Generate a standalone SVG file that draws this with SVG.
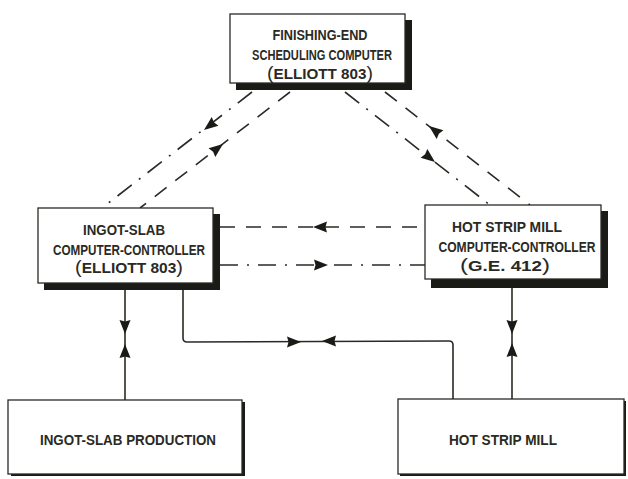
<svg xmlns="http://www.w3.org/2000/svg" xmlns:xlink="http://www.w3.org/1999/xlink" width="628" height="479" viewBox="0 0 628 479">
<style>
.bg{fill:#ffffff}
.box{fill:#ffffff;stroke:#2a2a24;stroke-width:1.3}
.sh{fill:#1a1a16}
.t{font-family:"Liberation Sans",Arial,sans-serif;font-size:14px;font-weight:bold;fill:#2a2a24;text-anchor:middle}
.p{font-size:18px;font-weight:normal}
.ln{fill:none;stroke:#2a2a24;stroke-width:1.6;stroke-linejoin:round}
.dash{stroke-dasharray:15 11}
.dd{stroke-dasharray:18 9 2 9}
.ah{fill:#1a1a16}
</style>
<defs>
<path id="ah" d="M0,0 L-14,-5.5 L-12.5,0 L-14,5.5 Z"/>
</defs>
<rect class="bg" width="628" height="479"/>

<g id="connectors">
<!-- left diagonals -->
<path class="ln dd" d="M252,92 L102,208"/>
<path class="ln dash" d="M290,92 L140,208"/>
<!-- right diagonals -->
<path class="ln dd" d="M345,92 L490,205"/>
<path class="ln dash" d="M385,92 L530,205"/>
<!-- horizontals between controllers -->
<path class="ln dash" d="M220,227 L425,227"/>
<path class="ln dd" d="M220,265 L425,265"/>
<!-- solid connectors -->
<path class="ln" d="M125,290 L125,400"/>
<path class="ln" d="M183,290 L183,338 Q183,342 187,342 L449,341 Q453,341 453,345 L453,399"/>
<path class="ln" d="M512,288 L512,399"/>
<!-- arrowheads -->
<g class="ah">
<use xlink:href="#ah" transform="translate(204,130) rotate(142.3)"/>
<use xlink:href="#ah" transform="translate(223,144) rotate(-37.7)"/>
<use xlink:href="#ah" transform="translate(435,162) rotate(37.9)"/>
<use xlink:href="#ah" transform="translate(429,126) rotate(-142.1)"/>
<use xlink:href="#ah" transform="translate(313,227) rotate(180)"/>
<use xlink:href="#ah" transform="translate(328,265)"/>
<use xlink:href="#ah" transform="translate(125,334) rotate(90)"/>
<use xlink:href="#ah" transform="translate(125,344) rotate(-90)"/>
<use xlink:href="#ah" transform="translate(512,334) rotate(90)"/>
<use xlink:href="#ah" transform="translate(512,343) rotate(-90)"/>
<use xlink:href="#ah" transform="translate(301,342)"/>
<use xlink:href="#ah" transform="translate(322,341) rotate(180)"/>
</g>
</g>

<g id="finishing">
<rect class="sh" x="236" y="20" width="176" height="70"/>
<rect class="box" x="230" y="14" width="175" height="69"/>
<text class="t" x="320" y="40" textLength="95" lengthAdjust="spacingAndGlyphs">FINISHING-END</text>
<text class="t" x="322" y="60" textLength="140" lengthAdjust="spacingAndGlyphs">SCHEDULING COMPUTER</text>
<text class="t" x="320" y="79" textLength="106" lengthAdjust="spacingAndGlyphs"><tspan class="p">(</tspan>ELLIOTT 803<tspan class="p">)</tspan></text>
</g>

<g id="ingot-controller">
<rect class="sh" x="44" y="214" width="176" height="76"/>
<rect class="box" x="38" y="208" width="175" height="75"/>
<text class="t" x="124" y="235" textLength="82" lengthAdjust="spacingAndGlyphs">INGOT-SLAB</text>
<text class="t" x="129" y="255" textLength="152" lengthAdjust="spacingAndGlyphs">COMPUTER-CONTROLLER</text>
<text class="t" x="129" y="273" textLength="108" lengthAdjust="spacingAndGlyphs"><tspan class="p">(</tspan>ELLIOTT 803<tspan class="p">)</tspan></text>
</g>

<g id="hotstrip-controller">
<rect class="sh" x="431" y="211" width="177" height="77"/>
<rect class="box" x="425" y="205" width="176" height="74"/>
<text class="t" x="507" y="232" textLength="110" lengthAdjust="spacingAndGlyphs">HOT STRIP MILL</text>
<text class="t" x="517" y="252" textLength="157" lengthAdjust="spacingAndGlyphs">COMPUTER-CONTROLLER</text>
<text class="t" x="505" y="271" textLength="90" lengthAdjust="spacingAndGlyphs"><tspan class="p">(</tspan>G.E. 412<tspan class="p">)</tspan></text>
</g>

<g id="ingot-production">
<rect class="sh" x="11" y="402" width="234" height="74"/>
<rect class="box" x="8" y="400" width="234" height="74"/>
<text class="t" x="128" y="445" textLength="176" lengthAdjust="spacingAndGlyphs">INGOT-SLAB PRODUCTION</text>
</g>

<g id="hot-strip-mill">
<rect class="sh" x="400" y="401" width="226" height="75"/>
<rect class="box" x="398" y="399" width="226" height="75"/>
<text class="t" x="503" y="445" textLength="108" lengthAdjust="spacingAndGlyphs">HOT STRIP MILL</text>
</g>
</svg>
